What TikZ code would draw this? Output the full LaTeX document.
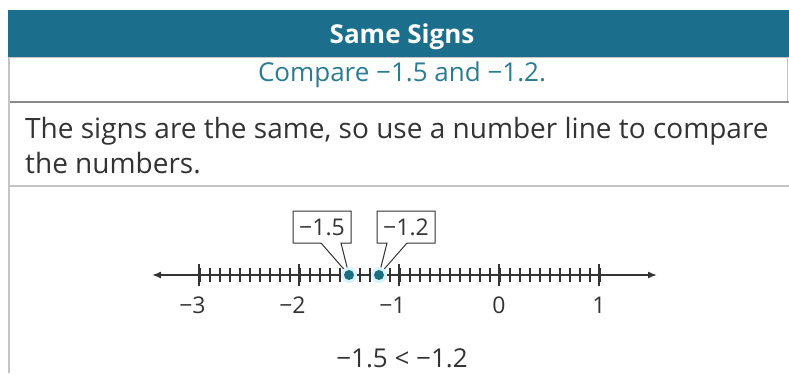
\documentclass[tikz,border=0pt]{standalone}
\usepackage{fontspec}
\setmainfont{Open Sans}
\usetikzlibrary{positioning,arrows.meta,shapes.callouts}
\definecolor{bandteal}{HTML}{1B6F8C}
\definecolor{textteal}{HTML}{2A7C93}
\definecolor{framegray}{HTML}{C4C4C4}
\definecolor{bodygray}{HTML}{333333}
\definecolor{dotteal}{HTML}{1D6E7E}

\tikzset{
  callbox/.style={rectangle callout, draw=bodygray, line width=1pt, fill=white,
    minimum width=58pt, minimum height=32pt, inner sep=1pt,
    callout pointer width=20pt, font=\fontsize{23}{25}\selectfont, text=bodygray},
  ticklabel/.style={anchor=base, font=\fontsize{23}{25}\selectfont, text=bodygray}
}

\begin{document}
\begin{tikzpicture}[x=1pt,y=-1pt]
  \useasboundingbox (0,0) rectangle (789,373);

  % header bands
  \fill[bandteal] (8,10) rectangle (789,57);
  \node[anchor=base,white,font=\fontsize{26}{28}\selectfont\bfseries] (title) at (402,43) {Same Signs};
  \draw[framegray,line width=1pt] (9,57) rectangle (787,101);
  \draw[framegray!70!black,line width=2pt] (9,102) -- (789,102);
  \node[anchor=base,textteal,font=\fontsize{26}{28}\selectfont] (task) at (402,81) {Compare −1.5 and −1.2.};

  % explanation
  \node[anchor=base west,inner sep=0pt,text=bodygray,font=\fontsize{28}{30}\selectfont] (line1) at (25,138) {The signs are the same, so use a number line to compare};
  \node[anchor=base west,inner sep=0pt,text=bodygray,font=\fontsize{28}{30}\selectfont] (line2) at (25,173) {the numbers.};
  \draw[framegray,line width=1.5pt] (9,186) -- (789,186);
  \draw[framegray,line width=1.5pt] (9,57) -- (9,373);

  % points on the line
  \coordinate (p15) at (349,275);
  \coordinate (p12) at (379,275);

  % callouts
  \node[callbox, callout absolute pointer={(p15)}] (c15) at (322,227) {−1.5};
  \node[callbox, callout absolute pointer={(p12)}] (c12) at (406,227) {−1.2};

  % number line
  \coordinate (lend) at (152,275);
  \coordinate (rend) at (657,275);
  \draw[{Latex[length=9pt,width=7pt]}-{Latex[length=9pt,width=7pt]},line width=1.5pt,bodygray] (lend) -- (rend);
  \foreach \i in {0,...,40}
    \draw[line width=1.2pt,bodygray] (200+10*\i,268) -- ++(0,14);
  \foreach \v/\t in {-3/\llap{−}3,-2/\llap{−}2,-1/\llap{−}1,0/0,1/1}
    \draw[line width=1.5pt,bodygray] (499+100*\v,264) -- ++(0,22)
      node[ticklabel] at (499+100*\v,313) {\t};

  % dots
  \fill[cyan!15] (p15) circle (8);
  \fill[cyan!15] (p12) circle (8);
  \fill[dotteal] (p15) circle (5);
  \fill[dotteal] (p12) circle (5);

  % result
  \node[anchor=base,text=bodygray,font=\fontsize{26}{28}\selectfont] (result) at (402,367) {−1.5 < −1.2};
\end{tikzpicture}
\end{document}
